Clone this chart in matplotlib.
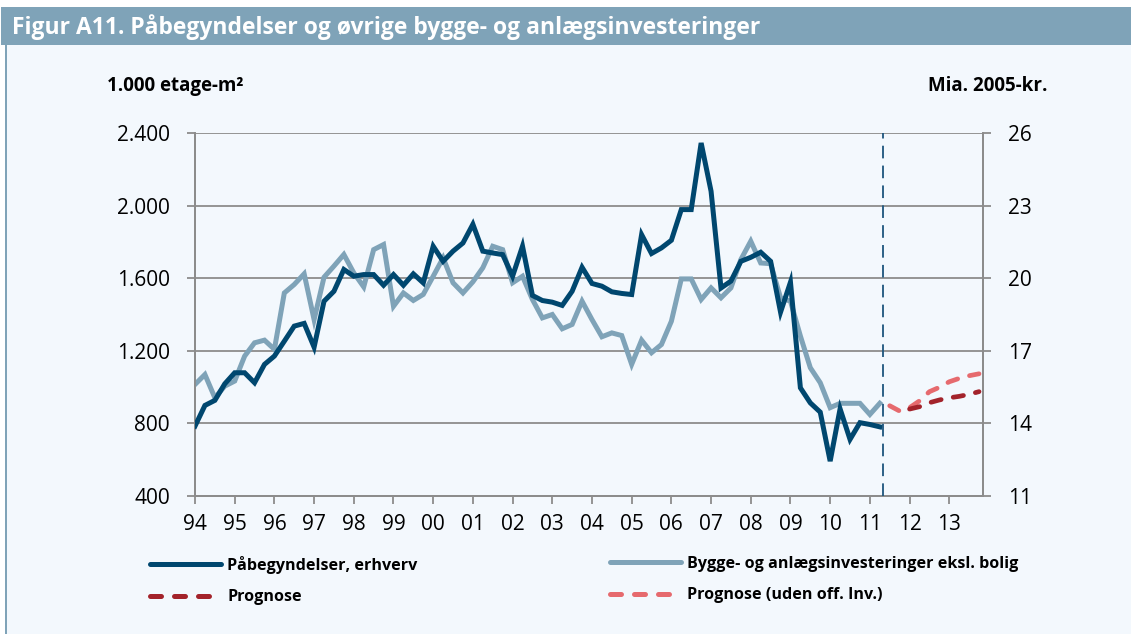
import matplotlib
matplotlib.use("Agg")
import matplotlib.pyplot as plt
import numpy as np
from matplotlib.patches import Rectangle

plt.rcParams['font.family'] = ['Open Sans', 'DejaVu Sans']

# quarterly data, 94Q1 -> 11Q2
paabeg = [785, 899, 927, 1018, 1079, 1079, 1024, 1125, 1171, 1253,
          1336, 1351, 1220, 1473, 1528, 1648, 1611, 1620, 1620, 1561,
          1620, 1561, 1624, 1574, 1776, 1693, 1749, 1794, 1897, 1749,
          1739, 1730, 1611, 1776, 1505, 1477, 1468, 1450, 1528, 1660,
          1571, 1556, 1525, 1516, 1510, 1840, 1736, 1767, 1809, 1978,
          1978, 2345, 2079, 1546, 1584, 1693, 1715, 1743, 1693, 1413,
          1578, 996, 913, 862, 592, 880, 712, 804, 794, 781]
bygge = [15.61, 16.02, 15.06, 15.54, 15.75, 16.78, 17.33, 17.44, 17.06, 19.39,
         19.74, 20.18, 18.29, 20.04, 20.50, 20.98, 20.22, 19.64, 21.18, 21.39,
         18.84, 19.39, 19.08, 19.33, 20.08, 20.84, 19.81, 19.39, 19.85, 20.43,
         21.32, 21.18, 19.81, 20.08, 19.12, 18.36, 18.50, 17.91, 18.09, 19.05,
         18.29, 17.58, 17.74, 17.63, 16.44, 17.44, 16.92, 17.26, 18.22, 19.97,
         19.97, 19.12, 19.60, 19.19, 19.60, 20.77, 21.53, 20.63, 20.60, 19.19,
         19.05, 17.61, 16.30, 15.68, 14.65, 14.83, 14.83, 14.83, 14.37, 14.83]
# forecasts
prog_start = 72   # 12Q1
prognose = [879, 892, 914, 929, 941, 949, 960, 975]
prog2_start = 70  # 11Q3
prognose_uden = [14.73, 14.51, 14.65, 14.93, 15.31, 15.49, 15.72, 15.86, 15.97, 16.05]

years = list(range(1994, 2014))
year_labels = [f"{y % 100:02d}" for y in years]
left_ticks = [400, 800, 1200, 1600, 2000, 2400]
right_ticks = [11, 14, 17, 20, 23, 26]

dark = '#00476f'
light = '#7fa3b8'
red = '#a3232b'
lred = '#e66a6e'
grid = '#8c8c8c'

W, H = 1131, 634
fig = plt.figure(figsize=(W / 100, H / 100), dpi=100, facecolor='white')

# background panel + title bar
fig.patches.append(Rectangle((6 / W, 0), 1, 1 - 45 / H, transform=fig.transFigure,
                             facecolor='#f3f8fd', edgecolor='none', zorder=-10))
fig.patches.append(Rectangle((4.5 / W, 0), 2.5 / W, 1 - 45 / H, transform=fig.transFigure,
                             facecolor=light, edgecolor='none', zorder=-9))
fig.patches.append(Rectangle((1 / W, 1 - 45 / H), 1, 38 / H, transform=fig.transFigure,
                             facecolor=light, edgecolor='none', zorder=-9))
fig.text(12 / W, 1 - 27 / H, "Figur A11. Påbegyndelser og øvrige bygge- og anlægsinvesteringer",
         color='white', fontsize=16.5, fontweight='bold', va='center', ha='left')

fig.text(107 / W, 1 - 86 / H, "1.000 etage-m²", fontsize=13.5, fontweight='bold', va='center', ha='left')
fig.text(1047 / W, 1 - 86 / H, "Mia. 2005-kr.", fontsize=13.5, fontweight='bold', va='center', ha='right')

ax = fig.add_axes([195 / W, 1 - 496 / H, (983 - 195) / W, (496 - 133) / H])
ax.set_facecolor('none')
ax2 = ax.twinx()
ax2.set_zorder(1)
ax.set_zorder(2)

x = 1994 + np.arange(len(paabeg)) / 4
xp = 1994 + (prog_start + np.arange(len(prognose))) / 4
xp2 = 1994 + (prog2_start + np.arange(len(prognose_uden))) / 4

ax.plot(x, paabeg, color=dark, lw=3.6, solid_joinstyle='miter', zorder=4)
ax2.plot(x, bygge, color=light, lw=3.6, solid_joinstyle='miter', zorder=3)
ax.plot(xp, prognose, color=red, lw=3.4, dashes=(2.2, 2.6), dash_capstyle='round', zorder=4)
ax2.plot(xp2, prognose_uden, color=lred, lw=3.4, dashes=(2.2, 2.6), dash_capstyle='round', zorder=3)
ax.axvline(2011.33, color='#1d557d', lw=1.3, dashes=(7, 4), zorder=5)

ax.set_xlim(1994, 1994 + 79.4 / 4)
ax.set_ylim(400, 2400)
ax2.set_ylim(11, 26)
ax.set_yticks(left_ticks)
ax.set_yticklabels([f"{v:,}".replace(",", ".") for v in left_ticks])
ax2.set_yticks(right_ticks)
ax2.set_yticklabels([str(v) for v in right_ticks])
ax.set_xticks(years)
ax.set_xticklabels(year_labels)

ax2.yaxis.grid(True, color=grid, lw=1.3, zorder=0)
ax2.set_axisbelow(True)
for a in (ax, ax2):
    a.spines['top'].set_visible(False)
    for s in ('left', 'right', 'bottom'):
        a.spines[s].set_color(grid)
        a.spines[s].set_linewidth(1.3)
    a.tick_params(axis='both', colors=grid, labelcolor='black', labelsize=15,
                  length=6, width=1.3)
ax.tick_params(axis='y', pad=12)
ax2.tick_params(axis='y', pad=12)
ax.tick_params(axis='x', pad=7)

h1, = ax.plot([], [], color=dark, lw=3.6, solid_capstyle='round')
h2, = ax.plot([], [], color=red, lw=3.6, dashes=(2.2, 2.6), dash_capstyle='round')
h3, = ax.plot([], [], color=light, lw=3.6, solid_capstyle='round')
h4, = ax.plot([], [], color=lred, lw=3.6, dashes=(2.2, 2.6), dash_capstyle='round')

leg_kw = dict(loc='upper left', frameon=False, handlelength=4.4, handletextpad=0.4,
              labelspacing=0.95, borderpad=0, borderaxespad=0,
              prop={'weight': 'bold', 'size': 11.6})
fig.legend([h1, h2], ["Påbegyndelser, erhverv", "Prognose"],
           bbox_to_anchor=(150 / W, 1 - 556 / H), **leg_kw)
fig.legend([h3, h4], ["Bygge- og anlægsinvesteringer eksl. bolig", "Prognose (uden off. Inv.)"],
           bbox_to_anchor=(610 / W, 1 - 556 / H), **leg_kw)

fig.savefig("out.png", dpi=100, facecolor='white')
